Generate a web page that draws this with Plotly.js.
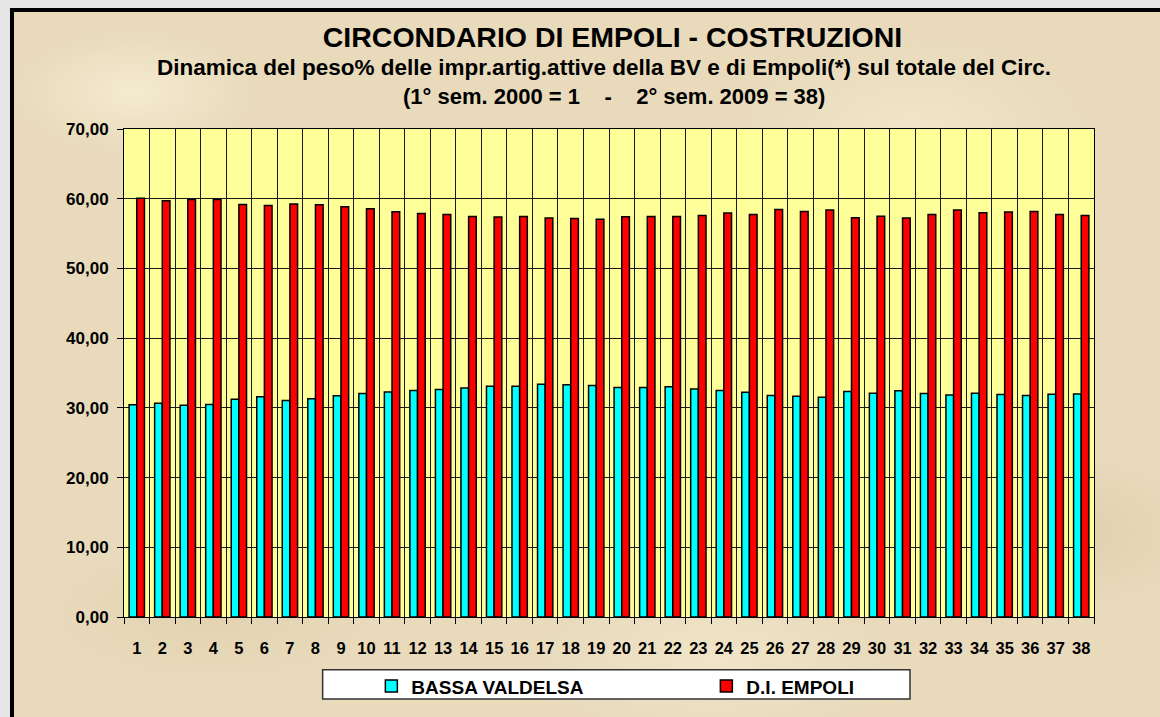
<!DOCTYPE html>
<html>
<head>
<meta charset="utf-8">
<script src="https://cdn.plot.ly/plotly-3.0.1.min.js"></script>
<style>
  html, body { margin: 0; padding: 0; width: 1160px; height: 717px; overflow: hidden; background: #e6e6e6; }
  #bg {
    position: absolute; left: 10px; top: 8px; width: 1160px; height: 720px;
    border-left: 4px solid #000; border-top: 4px solid #000;
    background-color: #e8dabb;
    background-image:
      radial-gradient(ellipse 180px 90px at 120px 80px, rgba(255,248,225,0.55), rgba(255,248,225,0) 70%),
      radial-gradient(ellipse 220px 120px at 420px 300px, rgba(205,185,145,0.35), rgba(205,185,145,0) 70%),
      radial-gradient(ellipse 260px 140px at 900px 120px, rgba(250,242,215,0.5), rgba(250,242,215,0) 70%),
      radial-gradient(ellipse 200px 110px at 1050px 520px, rgba(210,190,150,0.4), rgba(210,190,150,0) 70%),
      radial-gradient(ellipse 240px 100px at 200px 600px, rgba(215,195,155,0.35), rgba(215,195,155,0) 70%),
      radial-gradient(ellipse 260px 120px at 700px 650px, rgba(250,242,218,0.45), rgba(250,242,218,0) 70%);
  }
  #chart { position: absolute; left: 0; top: 0; width: 1160px; height: 717px; }
</style>
</head>
<body>
<div id="bg"></div>
<div id="chart"></div>
<script>
const categories = ["1","2","3","4","5","6","7","8","9","10","11","12","13","14","15","16","17","18","19",
  "20","21","22","23","24","25","26","27","28","29","30","31","32","33","34","35","36","37","38"];

const bassaValdelsa = [30.43, 30.66, 30.37, 30.47, 31.23, 31.58, 31.05, 31.29, 31.72, 32.05,
  32.29, 32.48, 32.65, 32.86, 33.10, 33.10, 33.39, 33.30, 33.20, 32.91,
  32.91, 33.01, 32.72, 32.48, 32.24, 31.76, 31.66, 31.52, 32.34, 32.10,
  32.44, 32.05, 31.86, 32.10, 31.90, 31.76, 31.95, 32.00];

const diEmpoli = [60.08, 59.71, 59.90, 59.90, 59.18, 59.04, 59.23, 59.13, 58.85, 58.56,
  58.13, 57.89, 57.74, 57.46, 57.36, 57.46, 57.22, 57.17, 57.07, 57.41,
  57.46, 57.46, 57.60, 57.94, 57.74, 58.44, 58.18, 58.37, 57.27, 57.50,
  57.22, 57.74, 58.37, 57.98, 58.08, 58.18, 57.74, 57.60];

const seriesNames = ["BASSA VALDELSA", "D.I. EMPOLI"];
const yTicks = [0, 10, 20, 30, 40, 50, 60, 70];

const titleText = "CIRCONDARIO DI EMPOLI - COSTRUZIONI";
const subtitle1 = "Dinamica del peso% delle impr.artig.attive della BV e di Empoli(*) sul totale del Circ.";
const subtitle2 = "(1° sem. 2000 = 1\u00A0\u00A0\u00A0\u00A0-\u00A0\u00A0\u00A0\u00A02° sem. 2009 = 38)";

const FONT = "Liberation Sans, Arial, sans-serif";

const traces = [
  {
    type: "bar", name: seriesNames[0], x: categories, y: bassaValdelsa,
    marker: { color: "#00FFFF", line: { color: "#000000", width: 1.5 } }
  },
  {
    type: "bar", name: seriesNames[1], x: categories, y: diEmpoli,
    marker: { color: "#FF0000", line: { color: "#000000", width: 1.5 } }
  }
];

const layout = {
  width: 1160, height: 717,
  margin: { l: 124, r: 66, t: 129, b: 100, pad: 0 },
  paper_bgcolor: "rgba(0,0,0,0)",
  plot_bgcolor: "#FFFF99",
  font: { family: FONT, color: "#000", size: 16, weight: 700 },
  title: {
    text: titleText,
    font: { family: FONT, size: 28.5, color: "#000", weight: 700 },
    xref: "container", x: 0.528, xanchor: "center",
    yref: "container", y: 0.949, yanchor: "middle"
  },
  barmode: "group", bargap: 0.4, bargroupgap: 0,
  separators: ",.",
  xaxis: {
    type: "category", tickson: "boundaries", tickangle: 0,
    showgrid: true, gridcolor: "#1a1a1a", gridwidth: 1,
    showline: true, linecolor: "#000", linewidth: 1, mirror: true,
    ticks: "outside", ticklen: 6, tickcolor: "#000",
    tickfont: { family: FONT, size: 16.5, color: "#000", weight: 700 },
    ticklabelstandoff: 16
  },
  yaxis: {
    range: [0, 70], tickvals: yTicks, tickformat: ".2f",
    showgrid: true, gridcolor: "#1a1a1a", gridwidth: 1,
    showline: true, linecolor: "#000", linewidth: 1, mirror: true,
    ticks: "outside", ticklen: 6, tickcolor: "#000",
    tickfont: { family: FONT, size: 17, color: "#000", weight: 700 },
    ticklabelstandoff: 5,
    zeroline: false
  },
  showlegend: true,
  legend: {
    orientation: "h", x: 0.255, xanchor: "left", y: -0.103, yanchor: "top",
    bgcolor: "rgba(0,0,0,0)", borderwidth: 0,
    font: { family: FONT, size: 19, color: "#000", weight: 700 },
    entrywidth: 290, entrywidthmode: "pixels", itemwidth: 30,
    traceorder: "normal"
  },
  shapes: [
    { type: "rect", xref: "paper", yref: "paper",
      x0: 0.2048, x1: 0.8103, y0: -0.168, y1: -0.108,
      fillcolor: "#FFFFFF", line: { color: "#333", width: 1.5 }, layer: "below" }
  ],
  annotations: [
    { text: subtitle1, xref: "paper", yref: "paper", x: 0.4948, y: 1.1256,
      xanchor: "center", yanchor: "middle", showarrow: false,
      font: { family: FONT, size: 22.5, color: "#000", weight: 700 } },
    { text: subtitle2, xref: "paper", yref: "paper", x: 0.505, y: 1.0662,
      xanchor: "center", yanchor: "middle", showarrow: false,
      font: { family: FONT, size: 22, color: "#000", weight: 700 } }
  ]
};

Plotly.newPlot("chart", traces, layout, { staticPlot: true, displayModeBar: false });
</script>
</body>
</html>
